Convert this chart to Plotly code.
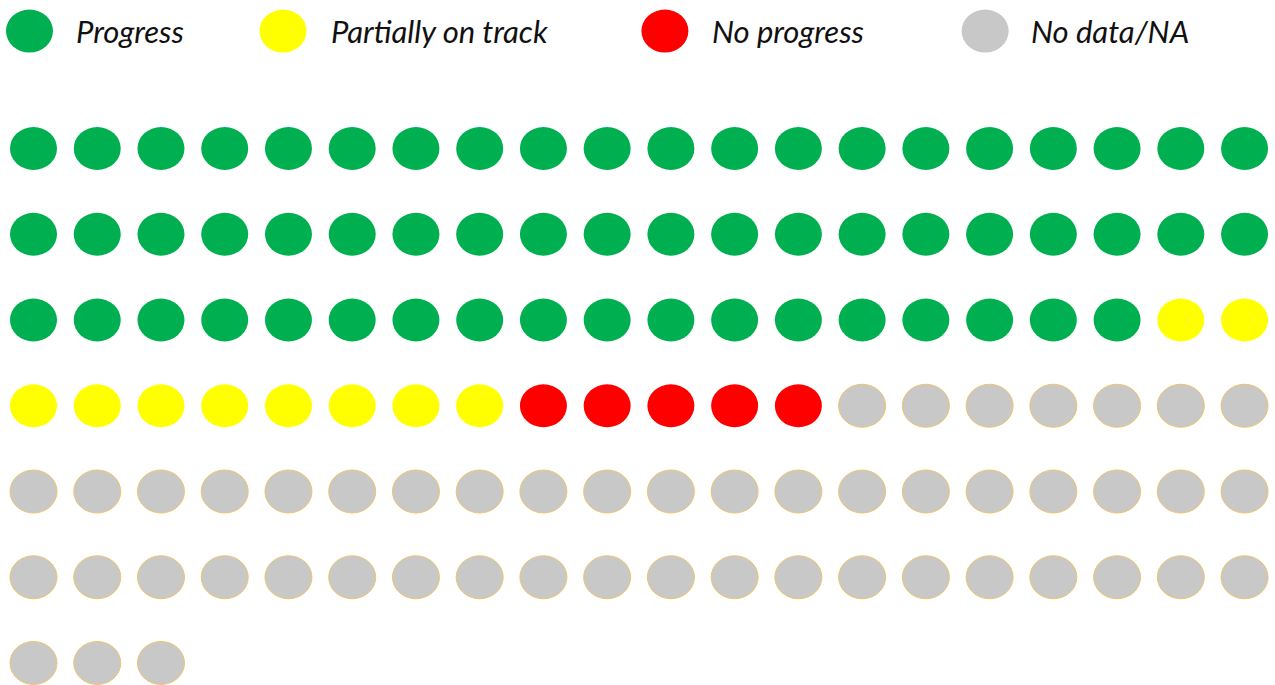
import plotly.graph_objects as go

# ---- data ----
categories = ["Progress", "Partially on track", "No progress", "No data/NA"]
counts = [58, 10, 5, 50]
colors = ["#00B050", "#FFFF00", "#FF0000", "#C8C8C8"]
outlines = [None, None, None, "#F0C46A"]
n_cols = 20

# ---- layout constants ----
W, H = 1275, 685
x0_px, dx_px = 33.5, 63.74
y0_px, dy_px = 148.5, 85.75
rx = 23.5 / dx_px
ry = 21.5 / dy_px
legend_marker_x = [-0.063, 3.914, 9.906, 14.93]
legend_text_x = [0.64, 4.64, 10.62, 15.62]
legend_y = -1.37

fig = go.Figure()
shapes = []
annotations = []

idx = 0
xs, ys, txt = [], [], []
for cat, n, col, oc in zip(categories, counts, colors, outlines):
    for _ in range(n):
        c = idx % n_cols
        r = idx // n_cols
        line = dict(color=oc, width=1) if oc else dict(width=0)
        shapes.append(dict(type="circle", xref="x", yref="y",
                           x0=c - rx, x1=c + rx, y0=r - ry, y1=r + ry,
                           fillcolor=col, line=line, layer="above"))
        xs.append(c); ys.append(r); txt.append(cat)
        idx += 1

fig.add_trace(go.Scatter(x=xs, y=ys, mode="markers", text=txt,
                         marker=dict(size=40, opacity=0), hoverinfo="text",
                         showlegend=False))

for cat, col, mx, tx in zip(categories, colors, legend_marker_x, legend_text_x):
    shapes.append(dict(type="circle", xref="x", yref="y",
                       x0=mx - rx, x1=mx + rx, y0=legend_y - ry, y1=legend_y + ry,
                       fillcolor=col, line=dict(width=0)))
    annotations.append(dict(x=tx, y=legend_y, xref="x", yref="y", text=f"<i>{cat}</i>",
                            showarrow=False, xanchor="left", yanchor="middle",
                            font=dict(family="Lato", size=31, color="#111111")))

x_lo = -x0_px / dx_px
x_hi = (W - x0_px) / dx_px
y_lo = -y0_px / dy_px
y_hi = (H - y0_px) / dy_px

fig.update_layout(
    width=W, height=H,
    margin=dict(l=0, r=0, t=0, b=0),
    paper_bgcolor="white", plot_bgcolor="white",
    shapes=shapes, annotations=annotations,
    xaxis=dict(range=[x_lo, x_hi], visible=False, fixedrange=True),
    yaxis=dict(range=[y_hi, y_lo], visible=False, fixedrange=True),
    showlegend=False,
)

fig.write_html("out.html", config={"displayModeBar": False},
               post_script="document.body.style.margin='0';document.body.style.overflow='hidden';")
